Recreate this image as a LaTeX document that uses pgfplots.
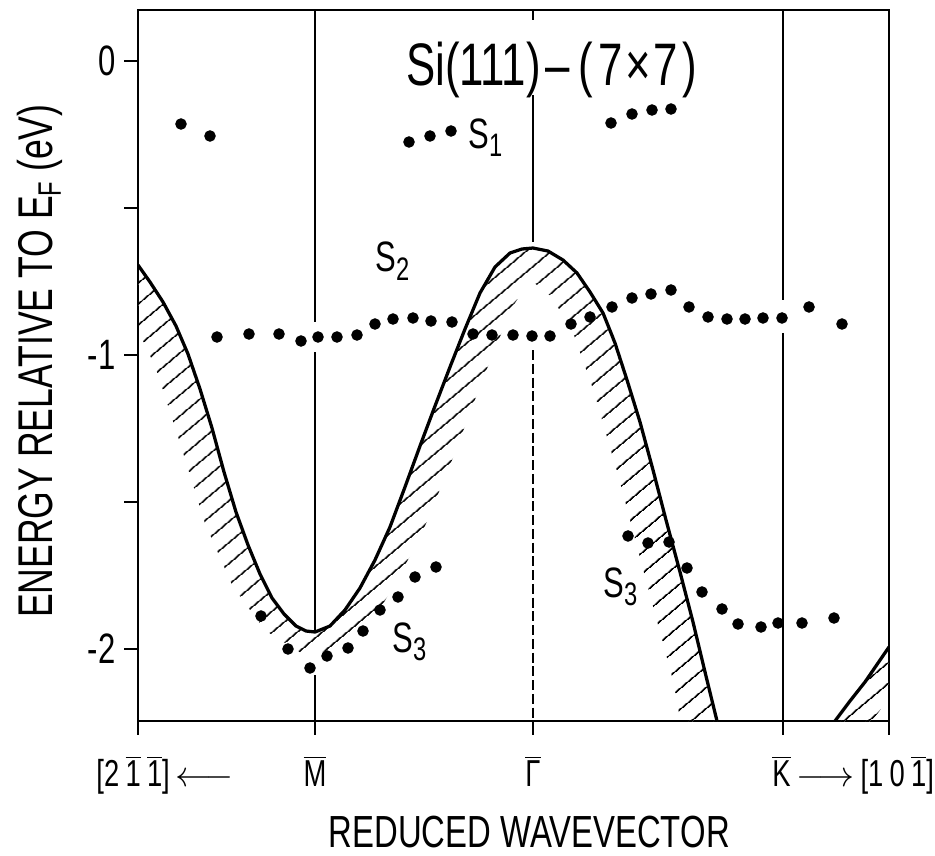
\documentclass[border=0pt]{standalone}
\usepackage{fontspec}
\setmainfont{Liberation Sans}[FakeStretch=0.73]
\usepackage{pgfplots}
\pgfplotsset{compat=1.18}
\usetikzlibrary{patterns.meta}
\newcommand{\ob}[1]{\ensuremath{\overline{\hbox{#1}}}}
\newcommand{\sub}[2][13]{\raisebox{-3.5pt}{\fontsize{#1}{#1}\selectfont #2}}
\begin{document}
\begin{tikzpicture}
\begin{axis}[
  scale only axis, width=300.4pt, height=284.4pt,
  xmin=-1.8119, xmax=1.6330, ymin=-2.2449, ymax=0.1735,
  axis line style={line width=1pt},
  tick align=outside,
  xtick={-1.8119,-1,0,1.1468,1.6330}, xticklabels={},
  ytick={0,-1,-2}, yticklabels={0,-1,-2},
  minor ytick={-0.5,-1.5},
  xtick pos=bottom, ytick pos=left,
  major tick length=5.5pt, minor tick length=5.5pt,
  every tick/.style={line width=0.9pt, black},
  yticklabel style={font=\fontsize{17}{17}\selectfont},
  clip mode=individual,
]
% hatched band along the bulk band edge
\addplot[draw=none, pattern={Lines[angle=40,distance=6.5pt,line width=0.7pt]}] coordinates {
(-1.8119,-0.6939)(-1.7569,-0.7517)(-1.6972,-0.8197)(-1.6376,-0.9014)(-1.5826,-0.9966)(-1.5275,-1.1156)(-1.4725,-1.2483)(-1.4174,-1.3980)(-1.3624,-1.5340)(-1.3073,-1.6463)(-1.2523,-1.7449)(-1.1972,-1.8265)(-1.1422,-1.8810)(-1.0872,-1.9218)(-1.0413,-1.9388)(-1.0000,-1.9422)(-0.9312,-1.9218)(-0.8624,-1.8673)(-0.7936,-1.7925)(-0.7248,-1.6973)(-0.6560,-1.5850)(-0.5872,-1.4490)(-0.5183,-1.3095)(-0.4495,-1.1735)(-0.3807,-1.0408)(-0.3119,-0.9116)(-0.2431,-0.7891)(-0.1743,-0.7007)(-0.1055,-0.6531)(-0.0505,-0.6395)(0,-0.6361)(0.0688,-0.6463)(0.1376,-0.6769)(0.2018,-0.7211)(0.2615,-0.7857)(0.3211,-0.8571)(0.3761,-0.9592)(0.4312,-1.0850)(0.4908,-1.2279)(0.5505,-1.3912)(0.6101,-1.5612)(0.6743,-1.7381)(0.7339,-1.9082)(0.7890,-2.0782)(0.8440,-2.2449)
(0.8624,-2.2925)
(0.6881,-2.2925)(0.6417,-2.1048)(0.5193,-1.7687)(0.3954,-1.4218)(0.2780,-1.1211)(0.1775,-0.9102)(0.0784,-0.7973)(0.0092,-0.7568)(0,-0.7551)(-0.0229,-0.7551)(-0.0986,-0.8412)(-0.2312,-1.0840)(-0.3679,-1.3510)(-0.5202,-1.6262)(-0.6835,-1.8415)(-0.8651,-1.9871)(-1.0,-2.0170)(-1.0702,-2.0105)(-1.2289,-1.9367)(-1.3775,-1.7871)(-1.5060,-1.5694)(-1.6266,-1.2813)(-1.7326,-1.0395)(-1.8358,-0.8799)(-1.9427,-0.7629)
};
\addplot[draw=none, pattern={Lines[angle=40,distance=6.5pt,line width=0.7pt]}] coordinates {
(1.3853,-2.2449)(1.4541,-2.1769)(1.5229,-2.1122)(1.6330,-1.9932)(1.7431,-2.0544)(1.4954,-2.3061)
};
% symmetry lines
\addplot[line width=0.7pt] coordinates {(-1,0.1735)(-1,-0.888)};
\addplot[line width=0.7pt] coordinates {(-1,-0.99)(-1,-1.942)};
\addplot[line width=0.7pt] coordinates {(-1,-2.09)(-1,-2.2449)};
\addplot[line width=0.7pt] coordinates {(0,0.1735)(0,0.139)};
\addplot[line width=0.7pt] coordinates {(0,-0.116)(0,-0.616)};
\addplot[line width=0.45pt, dash pattern=on 4pt off 1.5pt] coordinates {(0,-0.983)(0,-2.2449)};
\addplot[line width=0.7pt] coordinates {(1.1468,0.1735)(1.1468,-0.813)};
\addplot[line width=0.7pt] coordinates {(1.1468,-0.925)(1.1468,-2.2449)};
% bulk band edge
\addplot[line width=1.3pt, line join=round] coordinates {
(-1.8119,-0.6939)(-1.7569,-0.7517)(-1.6972,-0.8197)(-1.6376,-0.9014)(-1.5826,-0.9966)(-1.5275,-1.1156)(-1.4725,-1.2483)(-1.4174,-1.3980)(-1.3624,-1.5340)(-1.3073,-1.6463)(-1.2523,-1.7449)(-1.1972,-1.8265)(-1.1422,-1.8810)(-1.0872,-1.9218)(-1.0413,-1.9388)(-1.0000,-1.9422)(-0.9312,-1.9218)(-0.8624,-1.8673)(-0.7936,-1.7925)(-0.7248,-1.6973)(-0.6560,-1.5850)(-0.5872,-1.4490)(-0.5183,-1.3095)(-0.4495,-1.1735)(-0.3807,-1.0408)(-0.3119,-0.9116)(-0.2431,-0.7891)(-0.1743,-0.7007)(-0.1055,-0.6531)(-0.0505,-0.6395)(0,-0.6361)(0.0688,-0.6463)(0.1376,-0.6769)(0.2018,-0.7211)(0.2615,-0.7857)(0.3211,-0.8571)(0.3761,-0.9592)(0.4312,-1.0850)(0.4908,-1.2279)(0.5505,-1.3912)(0.6101,-1.5612)(0.6743,-1.7381)(0.7339,-1.9082)(0.7890,-2.0782)(0.8440,-2.2449)
};
\addplot[line width=1.3pt, line join=round] coordinates {
(1.3853,-2.2449)(1.4541,-2.1769)(1.5229,-2.1122)(1.6330,-1.9932)
};
% S1
\addplot[only marks, mark=*, mark size=2.1pt, black] coordinates {
(-1.6147,-0.2143)(-1.4817,-0.2551)
(-0.5688,-0.2755)(-0.4725,-0.2551)(-0.3761,-0.2381)
(0.3578,-0.2109)(0.4541,-0.1803)(0.5459,-0.1667)(0.6330,-0.1633)
};
% S2
\addplot[only marks, mark=*, mark size=2.1pt, black] coordinates {
(-1.4495,-0.9388)(-1.3028,-0.9286)(-1.1651,-0.9286)(-1.0642,-0.9524)(-0.9862,-0.9388)(-0.8991,-0.9388)(-0.8073,-0.9320)(-0.7248,-0.8946)(-0.6422,-0.8776)(-0.5505,-0.8741)(-0.4679,-0.8844)(-0.3716,-0.8878)(-0.2752,-0.9286)(-0.1881,-0.9320)(-0.0917,-0.9320)(-0.0046,-0.9354)(0.0780,-0.9354)(0.1743,-0.8946)(0.2615,-0.8707)(0.3624,-0.8367)(0.4541,-0.8061)(0.5413,-0.7925)(0.6330,-0.7789)(0.7156,-0.8367)(0.8028,-0.8707)(0.8899,-0.8776)(0.9725,-0.8776)(1.0550,-0.8741)(1.1422,-0.8741)(1.2661,-0.8367)(1.4174,-0.8946)
};
% S3
\addplot[only marks, mark=*, mark size=2.1pt, black] coordinates {
(-1.2477,-1.8878)(-1.1239,-2.0000)(-1.0229,-2.0646)(-0.9450,-2.0238)(-0.8486,-1.9966)(-0.7798,-1.9388)(-0.7018,-1.8673)(-0.6193,-1.8231)(-0.5413,-1.7551)(-0.4450,-1.7211)
};
\addplot[only marks, mark=*, mark size=2.1pt, black] coordinates {
(0.4358,-1.6156)(0.5275,-1.6395)(0.6239,-1.6361)(0.7064,-1.7245)(0.7752,-1.8061)(0.8670,-1.8639)(0.9404,-1.9150)(1.0459,-1.9252)(1.1239,-1.9116)(1.2339,-1.9116)(1.3807,-1.8946)
};
% texts
\node[anchor=base, inner sep=0pt, font=\fontsize{24}{24}\selectfont] at (axis description cs:0.551,0.8945) {Si(111)\hspace{2pt}--\hspace{3.5pt}(\hspace{2pt}7\hspace{1pt}×\hspace{1pt}7\hspace{2pt})};
\node[anchor=base west, inner sep=0pt, font=\fontsize{17}{17}\selectfont] at (axis description cs:0.4394,0.8059) {S\sub{1}};
\node[anchor=base west, inner sep=0pt, font=\fontsize{17}{17}\selectfont] at (axis description cs:0.3156,0.6315) {S\sub{2}};
\node[anchor=base west, inner sep=0pt, font=\fontsize{17}{17}\selectfont] at (axis description cs:0.3382,0.0970) {S\sub{3}};
\node[anchor=base west, inner sep=0pt, font=\fontsize{17}{17}\selectfont] at (axis description cs:0.6192,0.1744) {S\sub{3}};
\node[anchor=base, inner sep=0pt, font=\fontsize{15}{15}\selectfont] at (axis description cs:0.2357,-0.0928) {\ob{M}};
\node[anchor=base, inner sep=0pt, font=\fontsize{15}{15}\selectfont] at (axis description cs:0.526,-0.0928) {\ob{Γ}};
\node[anchor=base west, inner sep=0pt, font=\fontsize{15}{15}\selectfont] at (axis description cs:0.8440,-0.0928) {\ob{K}$\,\longrightarrow\,$[1\,0\,\ob{1}]};
\node[anchor=base west, inner sep=0pt, font=\fontsize{15}{15}\selectfont] at (axis description cs:-0.0560,-0.0928) {[2\,\ob{1}\,\ob{1}]$\,\longleftarrow$};
\node[anchor=base, inner sep=0pt, font=\fontsize{18}{18}\selectfont] at (axis description cs:0.521,-0.1786) {REDUCED WAVEVECTOR};
\node[anchor=base, rotate=90, inner sep=0pt, font=\fontsize{19.5}{19.5}\selectfont] at (axis description cs:-0.1145,0.506) {ENERGY RELATIVE TO E\sub[13]{F} (eV)};
\end{axis}
\pgfresetboundingbox
\path ([xshift=-55.2pt,yshift=-53.6pt]current axis.south west) rectangle ([xshift=18.4pt,yshift=4pt]current axis.north east);
\end{tikzpicture}
\end{document}
